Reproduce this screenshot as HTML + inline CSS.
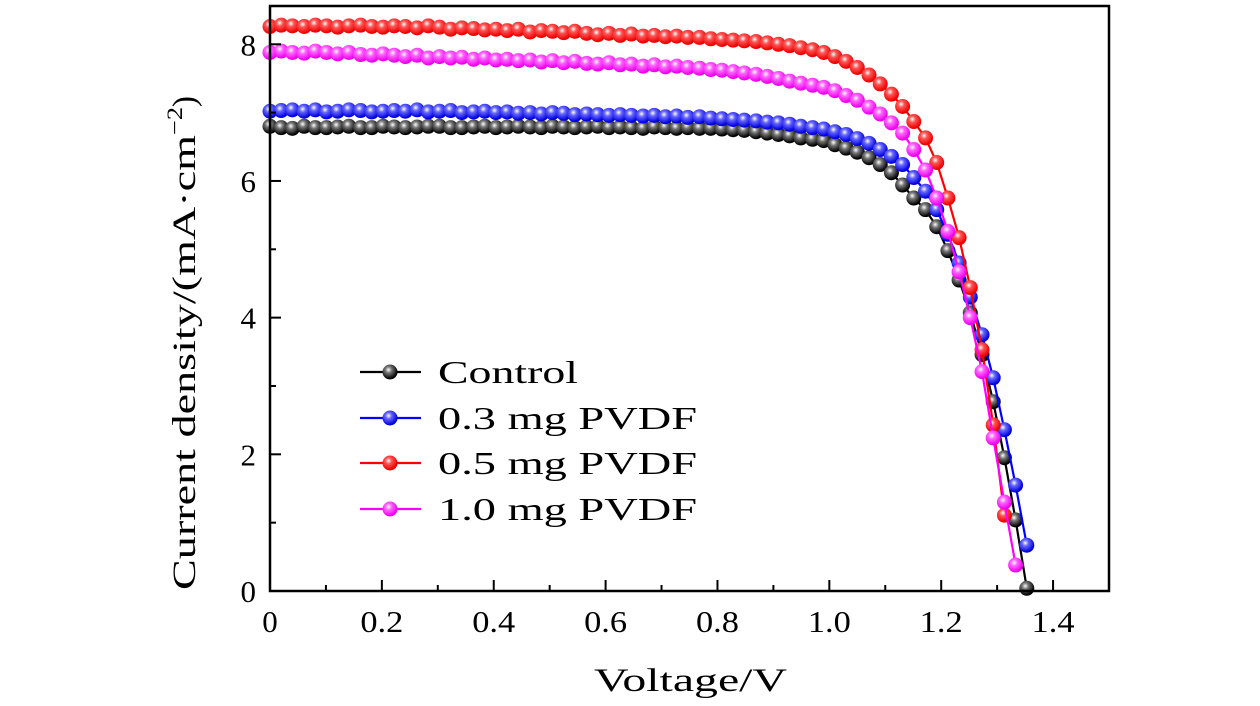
<!DOCTYPE html>
<html><head><meta charset="utf-8"><style>
html,body{margin:0;padding:0;background:#fff;}
svg{display:block;font-family:"Liberation Serif",serif;}
</style></head><body>
<svg id="chart" width="1260" height="706" viewBox="0 0 1260 706">
<defs>
<radialGradient id="g-black" cx="0.4" cy="0.35" r="0.6"><stop offset="0" stop-color="#fff"/><stop offset="0.35" stop-color="#777"/><stop offset="1" stop-color="#000"/></radialGradient>
<radialGradient id="g-blue" cx="0.4" cy="0.35" r="0.6"><stop offset="0" stop-color="#fff"/><stop offset="0.35" stop-color="#66f"/><stop offset="1" stop-color="#0000e0"/></radialGradient>
<radialGradient id="g-red" cx="0.4" cy="0.35" r="0.6"><stop offset="0" stop-color="#fff"/><stop offset="0.35" stop-color="#f55"/><stop offset="1" stop-color="#e00"/></radialGradient>
<radialGradient id="g-magenta" cx="0.4" cy="0.35" r="0.6"><stop offset="0" stop-color="#fff"/><stop offset="0.35" stop-color="#f6f"/><stop offset="1" stop-color="#e0e"/></radialGradient>
</defs>
<g id="series-layer"></g>
<g id="axes-layer"></g>
</svg>
<script>
const voltage = [0,0.020,0.040,0.061,0.081,0.101,0.121,0.141,0.162,0.182,0.202,0.222,0.242,0.263,0.283,0.303,0.323,0.343,0.364,0.384,0.404,0.424,0.444,0.465,0.485,0.505,0.525,0.545,0.566,0.586,0.606,0.626,0.646,0.667,0.687,0.707,0.727,0.747,0.768,0.788,0.808,0.828,0.848,0.869,0.889,0.909,0.929,0.949,0.970,0.990,1.010,1.030,1.050,1.071,1.091,1.111,1.131,1.151,1.172,1.192,1.212,1.232,1.252,1.273,1.293,1.313,1.333,1.353,1.374];
const controlJ = [6.80,6.78,6.77,6.80,6.78,6.78,6.79,6.80,6.78,6.78,6.80,6.79,6.78,6.79,6.80,6.80,6.78,6.78,6.79,6.80,6.78,6.79,6.80,6.79,6.78,6.80,6.79,6.78,6.79,6.80,6.78,6.79,6.78,6.77,6.79,6.78,6.77,6.78,6.77,6.77,6.76,
6.75,6.74,6.72,6.70,6.68,6.66,6.63,6.61,6.59,6.53,6.48,6.42,6.34,6.24,6.12,
5.94,5.75,5.58,5.33,4.98,4.55,4.07,3.46,2.77,1.95,1.04,0.04];
const pvdf03J = [7.02,7.03,7.04,7.02,7.04,7.01,7.02,7.04,7.03,7.01,7.02,7.03,7.02,7.04,7.01,7.02,7.03,7.00,7.01,7.02,7.00,7.01,6.99,7.00,6.98,7.00,6.99,6.97,6.98,6.97,6.96,6.97,6.96,6.95,6.96,6.94,6.95,6.93,6.94,6.92,6.91,
6.90,6.89,6.88,6.86,6.85,6.83,6.80,6.78,6.76,6.72,6.68,6.62,6.55,6.46,6.36,
6.24,6.05,5.85,5.58,5.22,4.80,4.30,3.75,3.12,2.36,1.55,0.67];
const pvdf05J = [8.26,8.28,8.27,8.26,8.28,8.27,8.25,8.27,8.28,8.26,8.25,8.27,8.26,8.24,8.27,8.25,8.22,8.24,8.23,8.21,8.22,8.20,8.22,8.18,8.20,8.19,8.17,8.19,8.16,8.14,8.16,8.13,8.15,8.12,8.13,8.11,8.12,8.10,8.10,8.08,8.07,
8.06,8.05,8.04,8.02,8.00,7.98,7.95,7.92,7.88,7.82,7.75,7.66,7.55,7.42,7.27,
7.09,6.87,6.63,6.27,5.75,5.17,4.44,3.53,2.43,1.11];
const pvdf10J = [7.88,7.90,7.88,7.87,7.90,7.88,7.86,7.88,7.85,7.84,7.86,7.84,7.82,7.84,7.80,7.82,7.80,7.81,7.78,7.80,7.77,7.78,7.76,7.77,7.74,7.76,7.73,7.75,7.72,7.71,7.73,7.70,7.71,7.68,7.70,7.67,7.68,7.66,7.65,7.63,7.62,
7.60,7.58,7.56,7.53,7.50,7.46,7.43,7.40,7.37,7.32,7.25,7.18,7.08,6.98,6.85,
6.70,6.46,6.16,5.75,5.26,4.67,4.00,3.21,2.24,1.30,0.38];
const seriesNames = ["Control","0.3 mg PVDF","0.5 mg PVDF","1.0 mg PVDF"];
const xTicks = [0,0.2,0.4,0.6,0.8,1.0,1.2,1.4];
const xTickLabels = ["0","0.2","0.4","0.6","0.8","1.0","1.2","1.4"];
const xMinor = [0.1,0.3,0.5,0.7,0.9,1.1,1.3];
const yTicks = [0,2,4,6,8];
const yMinor = [1,3,5,7];

const NS="http://www.w3.org/2000/svg";
const L=270,R=1109,T=6,B=591;
const X0=0,X1=1.5,Y0=0,Y1=8.56;
function sx(v){return L+(v-X0)/(X1-X0)*(R-L);}
function sy(v){return B-(v-Y0)/(Y1-Y0)*(B-T);}
function mk(tag,attrs,parent){const e=document.createElementNS(NS,tag);for(const k in attrs)e.setAttribute(k,attrs[k]);parent.appendChild(e);return e;}
const sl=document.getElementById('series-layer');
const al=document.getElementById('axes-layer');
const colors=["#000","#00f","#f00","#f0f"];
const grads=["g-black","g-blue","g-red","g-magenta"];
const datasets=[controlJ,pvdf03J,pvdf05J,pvdf10J];
const keys=["control","pvdf-03","pvdf-05","pvdf-10"];
datasets.forEach((d,si)=>{
  const g=mk('g',{},sl);
  
  
  const pts=d.map((v,i)=>sx(voltage[i]).toFixed(1)+','+sy(v).toFixed(1)).join(' ');
  const pl=mk('polyline',{points:pts,fill:'none',stroke:colors[si],'stroke-width':2.2},g);
  
  
  d.forEach((v,i)=>{
    const c=mk('circle',{cx:sx(voltage[i]),cy:sy(v),r:7.5,fill:'url(#'+grads[si]+')'},g);
    
    
  });
});
const fr=mk('rect',{x:L,y:T,width:R-L,height:B-T,fill:'none',stroke:'#000','stroke-width':2.5},al);


xTicks.forEach((v,i)=>{
  const t=mk('line',{x1:sx(v),x2:sx(v),y1:B,y2:B-11,stroke:'#000','stroke-width':2},al);
  
  
  const tx=mk('text',{x:sx(v),y:B+41,'font-size':31,'text-anchor':'middle'},al);
  tx.textContent=xTickLabels[i];
  if(xTickLabels[i].length>1){tx.setAttribute('textLength',43);tx.setAttribute('lengthAdjust','spacingAndGlyphs');}
  
  
});
xMinor.forEach(v=>{
  const t=mk('line',{x1:sx(v),x2:sx(v),y1:B,y2:B-6,stroke:'#000','stroke-width':2},al);
  
  
});
yTicks.forEach(v=>{
  const t=mk('line',{x1:L,x2:L+11,y1:sy(v),y2:sy(v),stroke:'#000','stroke-width':2},al);
  
  
  const tx=mk('text',{x:L-14,y:sy(v)+11,'font-size':31,'text-anchor':'end'},al);
  tx.textContent=String(v);
  
  
});
yMinor.forEach(v=>{
  const t=mk('line',{x1:L,x2:L+6,y1:sy(v),y2:sy(v),stroke:'#000','stroke-width':2},al);
  
  
});
const xt=mk('text',{x:594,y:691,'font-size':33,textLength:193,lengthAdjust:'spacingAndGlyphs'},al);
xt.textContent='Voltage/V';


const yt=mk('text',{x:0,y:0,'font-size':33,transform:'translate(195,590) rotate(-90)'},al);
const m1=mk('tspan',{textLength:455,lengthAdjust:'spacingAndGlyphs'},yt);
m1.textContent='Current density/(mA·cm';
const sup=mk('tspan',{'font-size':22,dy:-13,textLength:28,lengthAdjust:'spacingAndGlyphs'},yt);
sup.textContent='−2';
const cl=mk('tspan',{dy:13},yt);
cl.textContent=')';


const lg=mk('g',{},al);


const ly=[372,418,463,509];
const lw=[140,259,259,259];
seriesNames.forEach((n,i)=>{
  const e=mk('g',{},lg);
  
  
  mk('line',{x1:360,x2:421,y1:ly[i],y2:ly[i],stroke:colors[i],'stroke-width':2.2},e);
  mk('circle',{cx:390,cy:ly[i],r:7.5,fill:'url(#'+grads[i]+')'},e);
  const t=mk('text',{x:438,y:ly[i]+11,'font-size':32,textLength:lw[i],lengthAdjust:'spacingAndGlyphs'},e);
  t.textContent=n;
});
</script>
</body></html>
